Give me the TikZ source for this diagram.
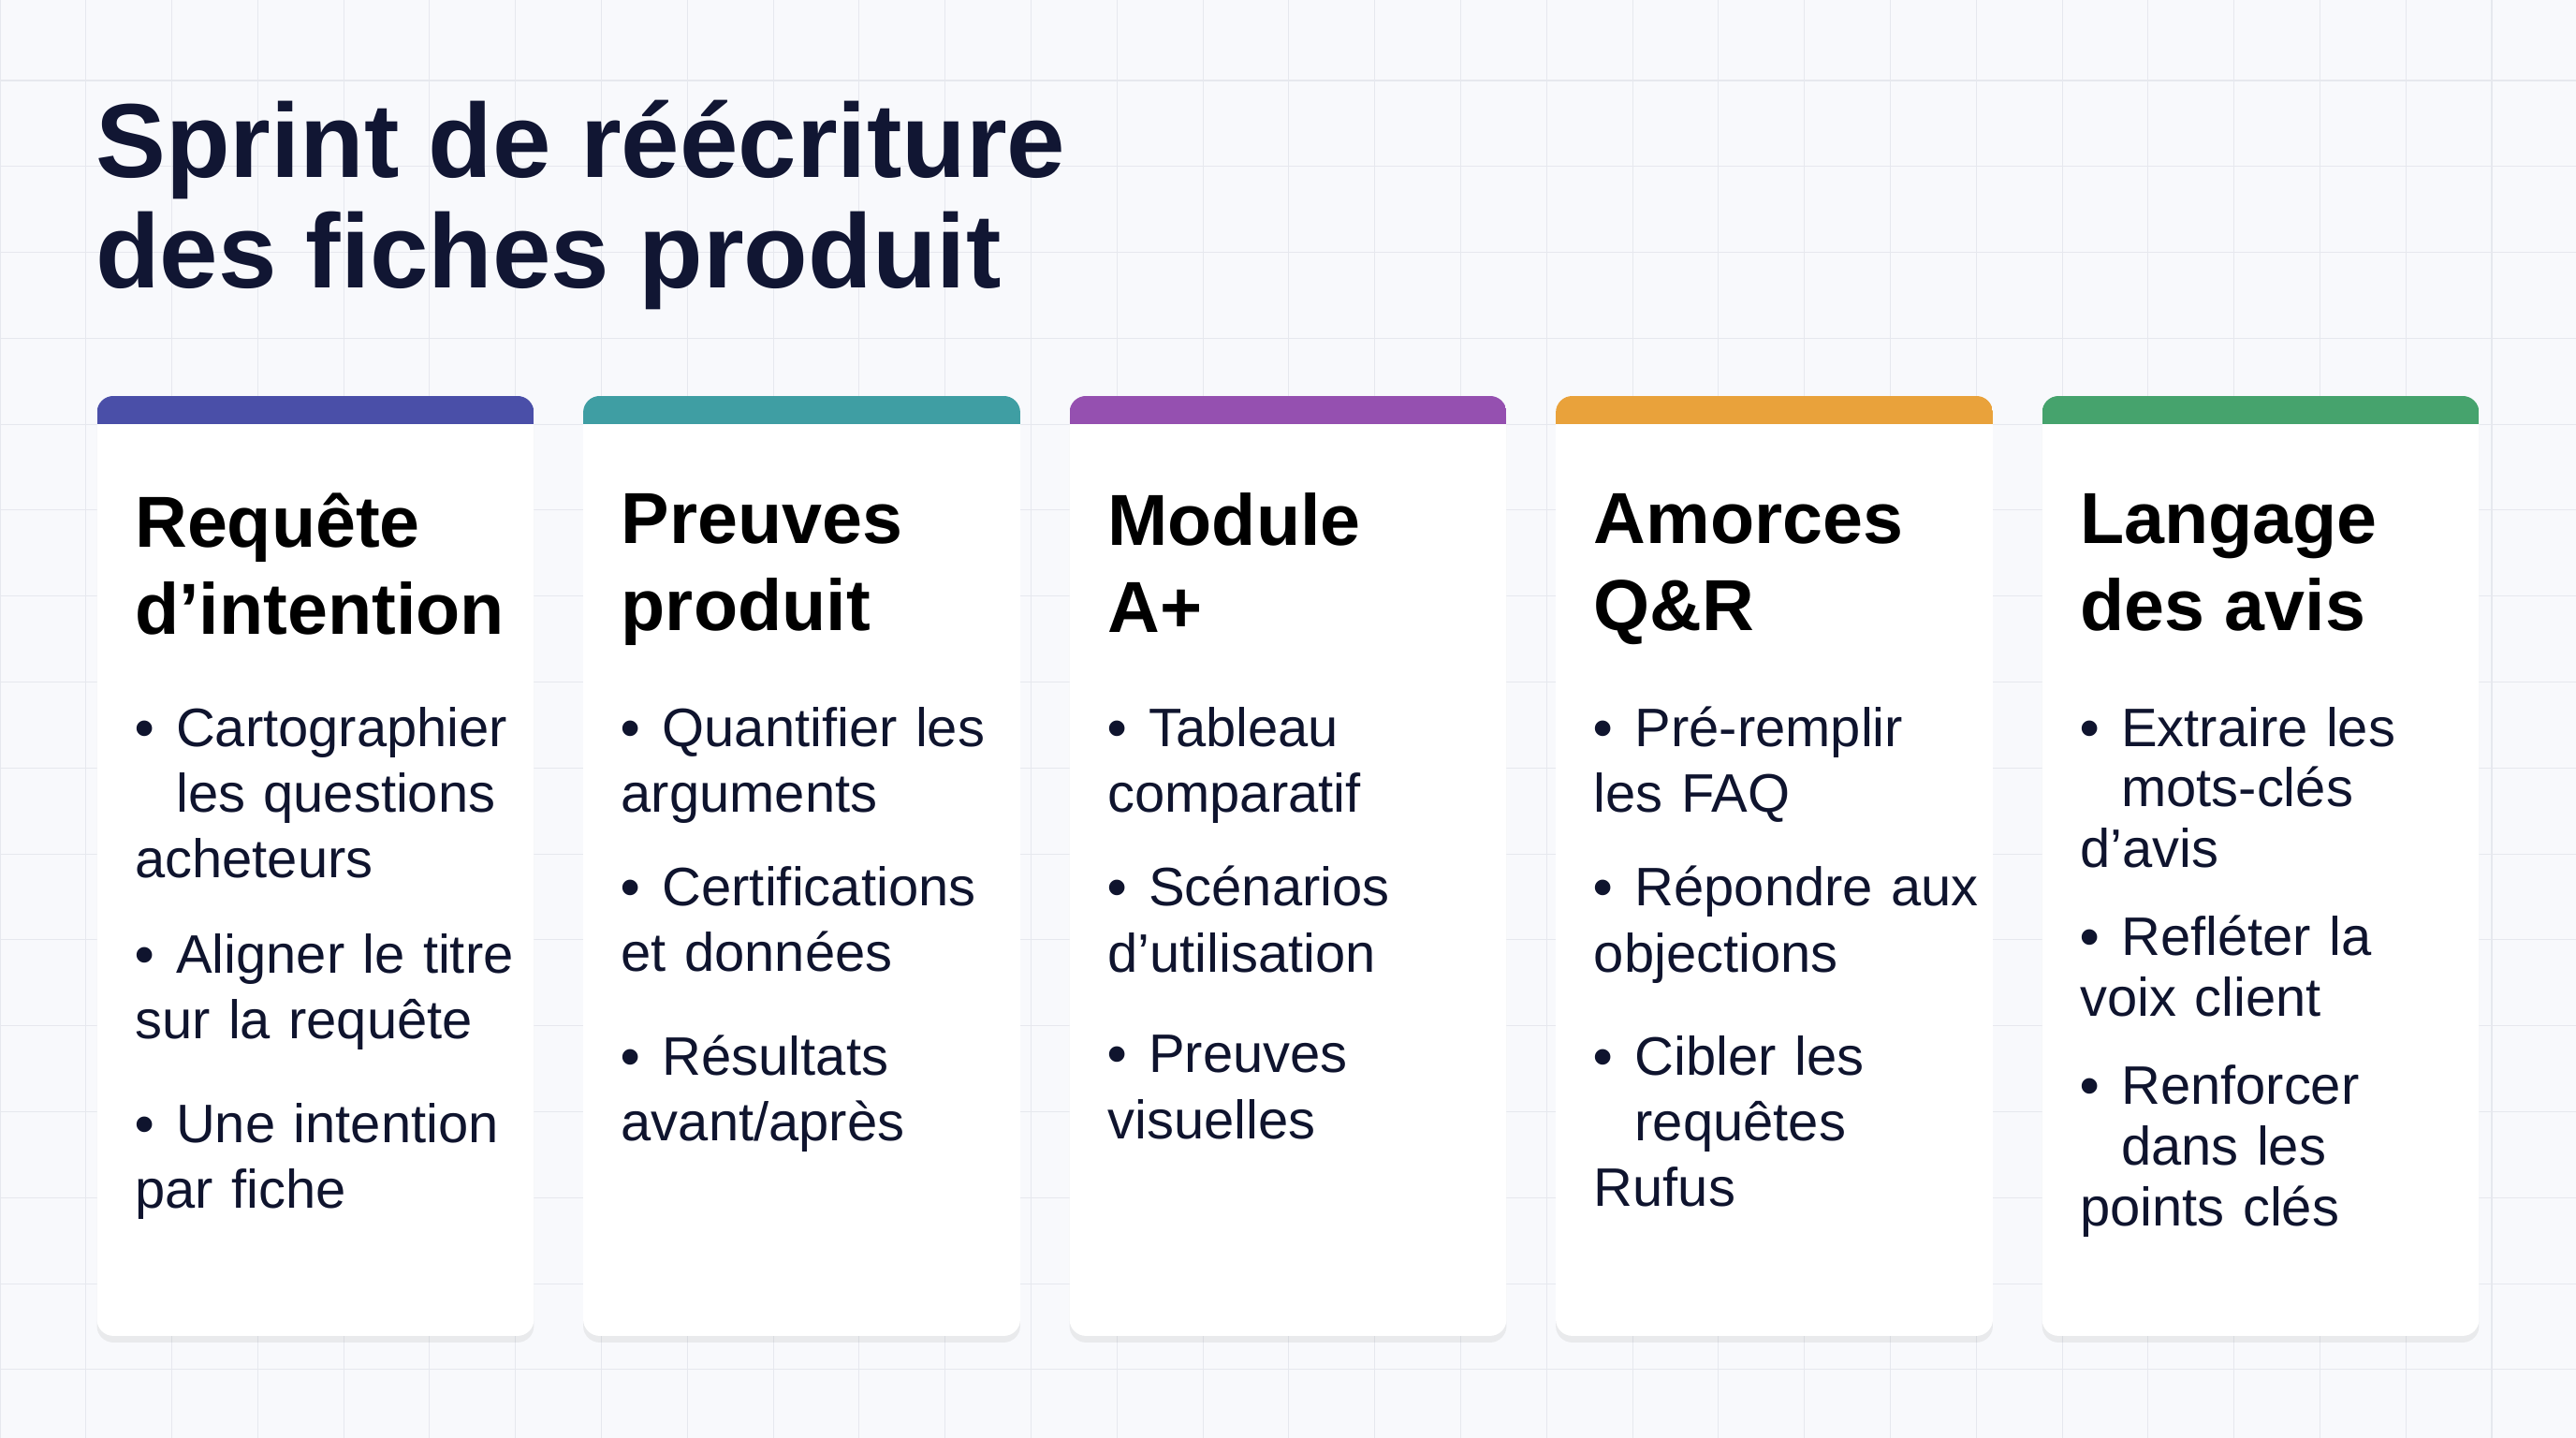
\documentclass[tikz,border=0pt]{standalone}
\usepackage{fontspec}
\setmainfont{Liberation Sans}
\usetikzlibrary{shadows}
\definecolor{ink}{HTML}{111633}
\definecolor{cA}{HTML}{4A4FA8}
\definecolor{cB}{HTML}{3F9EA3}
\definecolor{cC}{HTML}{9550B0}
\definecolor{cD}{HTML}{E9A23B}
\definecolor{cE}{HTML}{46A36D}
\definecolor{bg}{HTML}{F8F9FC}
\definecolor{gridc}{HTML}{E6E8EE}
\tikzset{
 head/.style={anchor=north west,inner sep=0,align=left,font=\fontsize{44}{53}\selectfont\bfseries,text=black},
 item/.style={anchor=north west,inner sep=0,text width=260pt,align=left,font=\fontsize{33}{40}\selectfont,text=ink!90!black},
 card/.style={fill=white,rounded corners=10pt,drop shadow={opacity=0.12,shadow xshift=0pt,shadow yshift=-4pt}},
}
\newcommand{\cardat}[4]{% x, color, name, header
 \path[card] (#1,241) rectangle ++(266,572);
 \begin{scope}
 \clip[rounded corners=10pt] (#1,241) rectangle ++(266,60);
 \fill[#2] (#1,241) rectangle ++(266,17);
 \end{scope}
 \node[head] (#3h) at (#1+23,300) {#4};
}
\newcommand{\bul}[4]{% x, ycenter, name, text
 \node[item] (#3) at (#1+23,#2-13) {\leftskip=25pt\hspace*{-25pt}\makebox[25pt][l]{\textbf{•}}#4};
}
\begin{document}
\begin{tikzpicture}[x=1pt,y=-1pt]
\useasboundingbox (0,0) rectangle (1568,875);
\fill[bg] (0,0) rectangle (1568,875);
\foreach \i in {0,...,30} \draw[gridc,line width=0.6pt] (\i*52.3,0) -- (\i*52.3,875);
\foreach \j in {0,...,17} \draw[gridc,line width=0.6pt] (0,49+\j*52.3) -- (1568,49+\j*52.3);
\node[anchor=north west,inner sep=0,align=left,text=ink,font=\fontsize{64}{67}\selectfont\bfseries] (title) at (58,61) {Sprint de réécriture\\des fiches produit};

\cardat{59}{cA}{a}{Requête\\d’intention}
\bul{59}{443}{a1}{Cartographier\\les questions\\acheteurs}
\bul{59}{581}{a2}{Aligner le titre\\sur la requête}
\bul{59}{684}{a3}{Une intention\\par fiche}

\cardat{355}{cB}{b}{Preuves\\produit}
\bul{355}{443}{b1}{Quantifier les\\arguments}
\bul{355}{540}{b2}{Certifications\\et données}
\bul{355}{643}{b3}{Résultats\\avant/après}

\cardat{651}{cC}{c}{Module\\A+}
\bul{651}{443}{c1}{Tableau\\comparatif}
\bul{651}{540}{c2}{Scénarios\\d’utilisation}
\bul{651}{643}{c3}{Preuves\\visuelles}

\cardat{947}{cD}{d}{Amorces\\Q\&R}
\bul{947}{443}{d1}{Pré-remplir\\les FAQ}
\bul{947}{540}{d2}{Répondre aux\\objections}
\bul{947}{643}{d3}{Cibler les\\requêtes\\Rufus}

\cardat{1243}{cE}{e}{Langage\\des avis}
\tikzset{item/.append style={font=\fontsize{33}{37}\selectfont}}
\bul{1243}{443}{e1}{Extraire les\\mots-clés\\d’avis}
\bul{1243}{570}{e2}{Refléter la\\voix client}
\bul{1243}{661}{e3}{Renforcer\\dans les\\points clés}
\end{tikzpicture}
\end{document}
